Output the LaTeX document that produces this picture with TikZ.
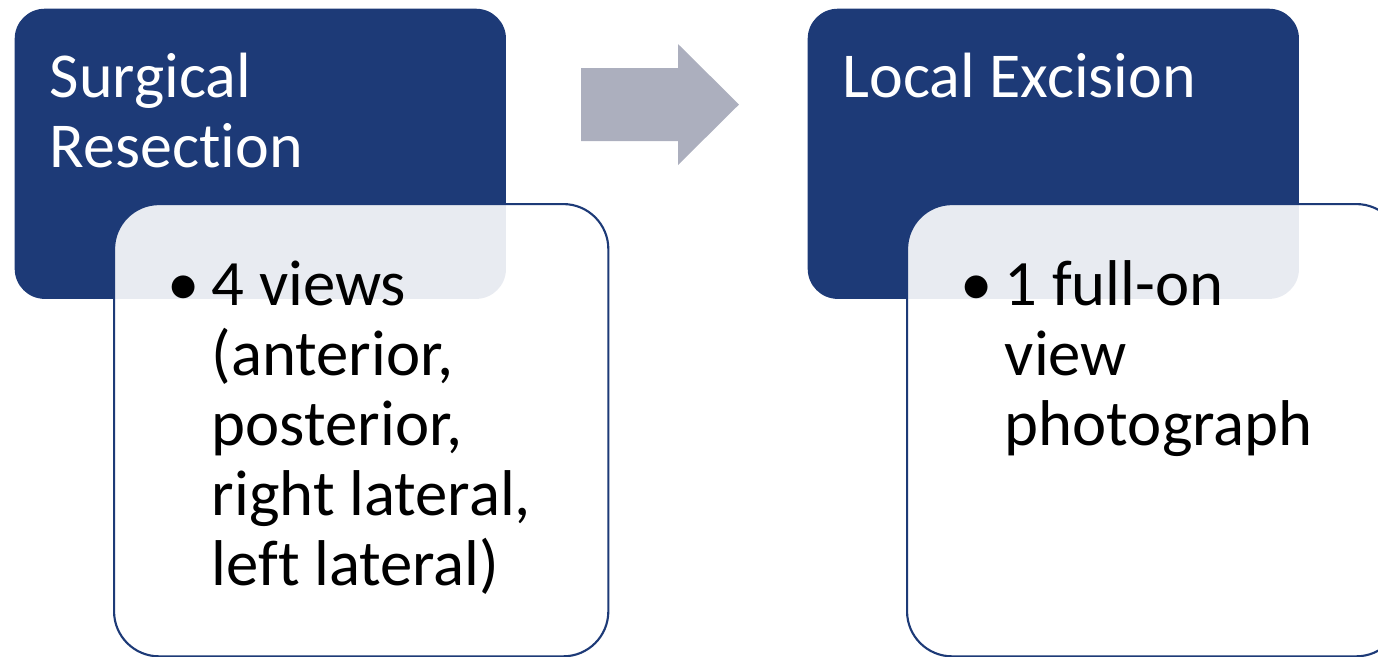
\documentclass[tikz,border=0pt]{standalone}
\usepackage{fontspec}
\setmainfont{Carlito}[Ligatures={NoCommon}]
\usetikzlibrary{positioning}
\definecolor{navy}{HTML}{1D3A77}
\definecolor{arrowgray}{HTML}{ACAFBE}
\newcommand{\headlines}[1]{\begin{tabular}[t]{@{}l@{}}#1\end{tabular}}
\newcommand{\bulletlines}[1]{\begin{tabular}[t]{@{}p{0.45cm}@{}l@{}}\hspace*{0.01cm}\textbullet & #1\end{tabular}}

\begin{document}
\begin{tikzpicture}[x=0.01cm,y=-0.01cm,% one unit = one pixel of the slide
        headbox/.style={fill=navy,rounded corners=0.3cm,minimum width=4.91cm,minimum height=2.9cm,inner sep=0pt,anchor=north west},%dark title block
        bodybox/.style={fill=white,fill opacity=0.9,draw=navy,line width=0.6pt,rounded corners=0.45cm,minimum width=4.94cm,minimum height=4.52cm,inner sep=0pt,anchor=north west},
        headtext/.style={text=white,inner sep=0pt,anchor=base west,font=\fontsize{18.2}{19.9}\selectfont},
        bodytext/.style={text=black,inner sep=0pt,anchor=base west,font=\fontsize{18.4}{19.9}\selectfont}]
\useasboundingbox (0,0) rectangle (1378,656);

% first step
\node[headbox] (surg) at (14,8) {};
\node[headtext] (surgtitle) at ([shift={(0.35cm,-0.89cm)}]surg.north west) {\headlines{Surgical\\Resection}};
\node[bodybox] (surgbody) at (113,203) {};
\node[bodytext] (surgviews) at ([shift={(0.53cm,-1.02cm)}]surgbody.north west) {%
\bulletlines{4 views\\ & (anterior,\\ & posterior,\\ & right lateral,\\ & left lateral)}};

% arrow between the steps
\fill[arrowgray] (581,68) -- (678,68) -- (678,44) -- (739,104.5) -- (678,165) -- (678,141) -- (581,141) -- cycle;

% second step
\node[headbox] (local) at (807,8) {};
\node[headtext] (localtitle) at ([shift={(0.35cm,-0.89cm)}]local.north west) {\headlines{Local Excision}};
\node[bodybox] (localbody) at (906,203) {};
\node[bodytext] (localview) at ([shift={(0.53cm,-1.02cm)}]localbody.north west) {%
\bulletlines{1 full-on\\ & view\\ & photograph}};

\end{tikzpicture}
\end{document}
